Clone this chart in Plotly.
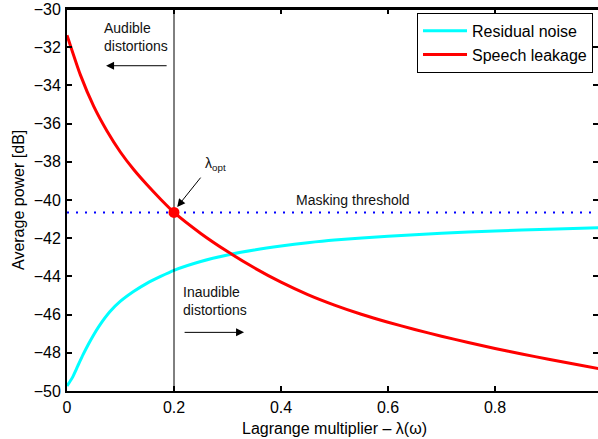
import plotly.graph_objects as go

# Speech leakage (red)
leak_x = [0.0, 0.025, 0.05, 0.075, 0.1, 0.125, 0.15, 0.175, 0.2, 0.25, 0.3, 0.35, 0.4, 0.45,
          0.5, 0.55, 0.6, 0.65, 0.7, 0.75, 0.8, 0.85, 0.9, 0.95, 1.0]
leak_y = [-31.37, -33.45, -35.1, -36.4, -37.5, -38.42, -39.22, -39.96, -40.65, -41.75, -42.7,
          -43.55, -44.3, -44.95, -45.5, -45.98, -46.4, -46.78, -47.13, -47.46, -47.77, -48.06,
          -48.34, -48.6, -48.86]

# Residual noise (cyan)
noise_x = [0.0, 0.01, 0.02, 0.03, 0.04, 0.05, 0.06, 0.08, 0.1, 0.125, 0.15, 0.175, 0.2, 0.25,
           0.3, 0.35, 0.4, 0.45, 0.5, 0.6, 0.7, 0.8, 0.9, 1.0]
noise_y = [-49.74, -49.3, -48.7, -48.1, -47.55, -47.05, -46.6, -45.85, -45.3, -44.78, -44.35,
           -44.0, -43.68, -43.22, -42.88, -42.62, -42.41, -42.24, -42.1, -41.9, -41.74, -41.62,
           -41.53, -41.45]

lambda_opt = 0.2
masking_threshold = -40.65
x_range = [0, 0.9925]
y_range = [-50, -30]
y_ticks = [-50, -48, -46, -44, -42, -40, -38, -36, -34, -32, -30]
x_ticks = [0, 0.2, 0.4, 0.6, 0.8]
x_ticktext = ["0", "0.2", "0.4", "0.6", "0.8"]

FONT = "Liberation Sans, Arial, Helvetica, sans-serif"

fig = go.Figure()
fig.add_trace(go.Scatter(x=[0, 1], y=[masking_threshold] * 2, mode="lines",
                         line=dict(color="#0000ff", width=2, dash="2px,7px"),
                         showlegend=False, hoverinfo="skip"))
fig.add_trace(go.Scatter(x=noise_x, y=noise_y, mode="lines", name="Residual noise",
                         line=dict(color="#00ffff", width=3, shape="spline", smoothing=0.6)))
fig.add_trace(go.Scatter(x=leak_x, y=leak_y, mode="lines", name="Speech leakage",
                         line=dict(color="#ff0000", width=3, shape="spline", smoothing=0.6)))
fig.add_trace(go.Scatter(x=[lambda_opt, lambda_opt], y=[-50, -30], mode="lines",
                         line=dict(color="black", width=1), showlegend=False, hoverinfo="skip"))
fig.add_trace(go.Scatter(x=[lambda_opt], y=[masking_threshold], mode="markers",
                         marker=dict(color="#ff0000", size=11), showlegend=False))
# invisible trace carrying the top and right-side ticks
fig.add_trace(go.Scatter(x=[lambda_opt], y=[masking_threshold], mode="markers",
                         marker=dict(opacity=0), showlegend=False, xaxis="x2", yaxis="y2",
                         hoverinfo="skip"))

ann_font = dict(family=FONT, size=14, color="#111111")
arrow = dict(xref="x", yref="y", axref="x", ayref="y", text="", showarrow=True,
             arrowhead=2, arrowsize=1.6, arrowwidth=1, arrowcolor="black")

fig.add_annotation(x=0.129, y=-31.46, text="Audible<br>distortions", showarrow=False,
                   font=ann_font, align="left", xanchor="center", yanchor="middle")
fig.add_annotation(x=0.073, y=-32.97, ax=0.189, ay=-32.97, **arrow)
fig.add_annotation(x=0.213, y=-45.3, text="Inaudible<br>distortions", showarrow=False,
                   font=ann_font, align="left", xanchor="left", yanchor="middle")
fig.add_annotation(x=0.331, y=-46.93, ax=0.217, ay=-46.93, **arrow)
fig.add_annotation(x=0.277, y=-38.13, text="λ<sub>opt</sub>", showarrow=False, font=ann_font,
                   xanchor="center", yanchor="middle")
fig.add_annotation(x=0.206, y=-40.36, ax=0.252, ay=-38.75, **arrow)
fig.add_annotation(x=0.535, y=-40.0, text="Masking threshold", showarrow=False, font=ann_font,
                   xanchor="center", yanchor="middle")

# axis titles
title_font = dict(family=FONT, size=16, color="black")
fig.add_annotation(xref="paper", yref="paper", x=-0.0923, y=0.50, text="Average power [dB]",
                   textangle=-90, showarrow=False, font=title_font,
                   xanchor="center", yanchor="middle")
fig.add_annotation(xref="paper", yref="paper", x=0.5047, y=-0.0969,
                   text="Lagrange multiplier – λ(ω)", showarrow=False, font=title_font,
                   xanchor="center", yanchor="middle")

# top border of the axes box
fig.add_shape(type="line", xref="paper", yref="paper", x0=0, x1=1, y0=1, y1=1,
              line=dict(color="black", width=2), layer="above")

axis_common = dict(showline=True, linecolor="black", linewidth=2, ticks="inside", ticklen=5,
                   tickwidth=2, tickcolor="black", showgrid=False, zeroline=False,
                   automargin=False, ticklabeloverflow="allow",
                   tickfont=dict(family=FONT, size=16, color="black"))

fig.update_layout(
    width=598, height=439,
    margin=dict(l=67, r=0, t=9, b=48),
    plot_bgcolor="white", paper_bgcolor="white",
    font=dict(family=FONT, size=16, color="black"),
    xaxis=dict(range=x_range, tickvals=x_ticks, ticktext=x_ticktext, mirror=False,
               ticklabelstandoff=1, **axis_common),
    yaxis=dict(range=y_range, tickvals=y_ticks, mirror=False, ticklabelstandoff=1, **axis_common),
    xaxis2=dict(range=x_range, tickvals=x_ticks, overlaying="x", side="top", showline=True,
                linecolor="black", linewidth=2, anchor="y2",
                ticks="inside", ticklen=5, tickwidth=2, tickcolor="black",
                showticklabels=False, showgrid=False, zeroline=False, automargin=False),
    yaxis2=dict(range=y_range, tickvals=y_ticks, overlaying="y", side="right", showline=False,
                anchor="x2", ticks="inside", ticklen=5, tickwidth=2, tickcolor="black",
                showticklabels=False, showgrid=False, zeroline=False, automargin=False),
    legend=dict(x=0.9906, y=0.99, xanchor="right", yanchor="top", bgcolor="white",
                bordercolor="black", borderwidth=1, font=dict(family=FONT, size=16, color="black"),
                tracegroupgap=0, itemwidth=44),
    showlegend=True,
)

fig.write_html("out.html", config={"displayModeBar": False},
               post_script="document.body.style.margin='0px';")
